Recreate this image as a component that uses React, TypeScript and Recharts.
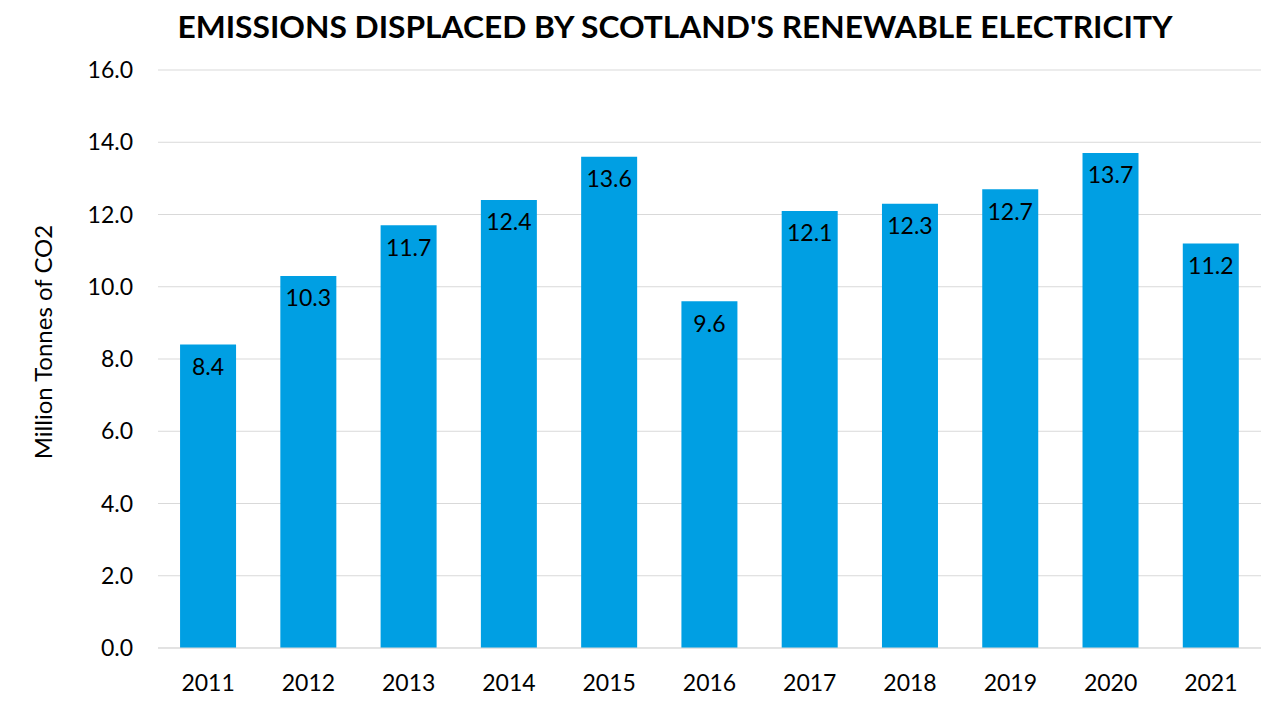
import { BarChart, Bar, XAxis, YAxis, CartesianGrid, LabelList } from "recharts";

const years = ["2011", "2012", "2013", "2014", "2015", "2016", "2017", "2018", "2019", "2020", "2021"];
const emissions = [8.4, 10.3, 11.7, 12.4, 13.6, 9.6, 12.1, 12.3, 12.7, 13.7, 11.2];
const yTicks = [0, 2, 4, 6, 8, 10, 12, 14, 16];

const data = years.map((year, i) => ({ year, value: emissions[i] }));

const FONT = "Lato, 'Open Sans', sans-serif";

export default function App() {
  return (
    <div style={{ position: "absolute", left: 0, top: 0, width: 1280, height: 720, background: "#fff", fontFamily: FONT }}>
      <BarChart
        width={1280}
        height={720}
        data={data}
        margin={{ top: 70, right: 19, bottom: 0, left: 0 }}
        barCategoryGap="22%"
      >
        <CartesianGrid vertical={false} stroke="#d9d9d9" />
        <XAxis
          dataKey="year"
          height={72}
          axisLine={{ stroke: "#d9d9d9" }}
          tickLine={false}
          tickSize={0}
          tickMargin={27}
          tick={{ fill: "#000", fontSize: 23, fontFamily: FONT }}
        />
        <YAxis
          width={158}
          domain={[0, 16]}
          ticks={yTicks}
          interval={0}
          axisLine={false}
          tickLine={false}
          tickSize={0}
          tickMargin={25}
          tickFormatter={(v: number) => v.toFixed(1)}
          tick={{ fill: "#000", fontSize: 23, fontFamily: FONT }}
        />
        <Bar dataKey="value" fill="#009fe3" isAnimationActive={false}>
          <LabelList
            dataKey="value"
            position="insideTop"
            offset={14}
            formatter={(v: number) => v.toFixed(1)}
            style={{ fill: "#000", fontSize: 23, fontFamily: FONT }}
          />
        </Bar>
      </BarChart>
      <svg width={1280} height={720} style={{ position: "absolute", left: 0, top: 0, pointerEvents: "none" }}>
        <text
          x={675}
          y={38}
          textAnchor="middle"
          fontSize={31}
          fontWeight={700}
          fontFamily={FONT}
          fill="#000"
          textLength={995}
          lengthAdjust="spacingAndGlyphs"
        >
          EMISSIONS DISPLACED BY SCOTLAND'S RENEWABLE ELECTRICITY
        </text>
        <text
          x={52}
          y={342}
          transform="rotate(-90 52 342)"
          textAnchor="middle"
          fontSize={24}
          fontFamily={FONT}
          fill="#000"
        >
          Million Tonnes of CO2
        </text>
      </svg>
    </div>
  );
}
